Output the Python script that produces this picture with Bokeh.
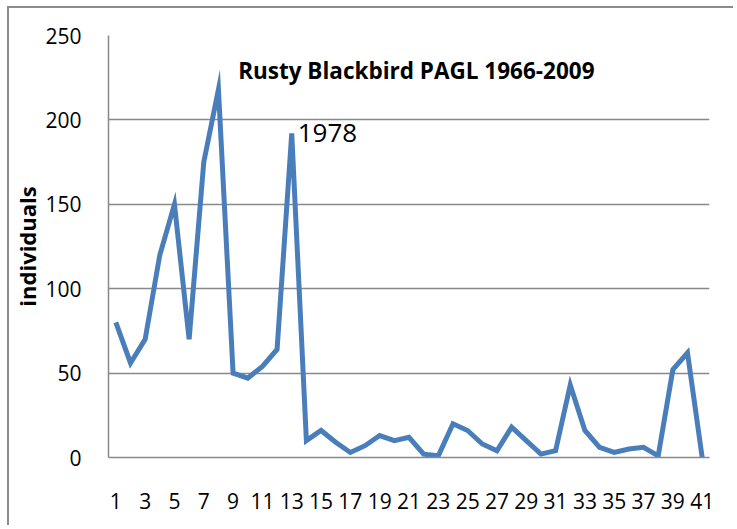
from bokeh.plotting import figure
from bokeh.layouts import column
from bokeh.models import Range1d, FixedTicker, Label, InlineStyleSheet
from bokeh.embed import file_html
from bokeh.resources import INLINE

x_index = list(range(1, 42))
individuals = [80, 56, 70, 120, 150, 70, 175, 218, 50, 47, 54, 64, 192,
               10, 16, 9, 3, 7, 13, 10, 12, 2, 1, 20, 16, 8, 4, 18, 10, 2,
               4, 43, 16, 6, 3, 5, 6, 1, 52, 62, 0]
x_tick_labels = [str(i) for i in range(1, 42, 2)]
y_ticks = [0, 50, 100, 150, 200, 250]
title_text = "Rusty Blackbird PAGL 1966-2009"
annotation_text = "1978"
annotation_index = 13

FONT = "Open Sans"
GRID = "#898989"

fig_css = InlineStyleSheet(css=":host { border-top: 2px solid #8c8c8c; border-left: 2px solid #8c8c8c; }")
wrap_css = InlineStyleSheet(css=":host { padding-top: 6px; padding-left: 7px; }")

p = figure(width=726, height=519, output_backend="svg", toolbar_location=None,
           x_range=Range1d(0.5, 41.5), y_range=Range1d(0, 250),
           min_border_left=98, min_border_top=27, min_border_right=26,
           min_border_bottom=70, stylesheets=[fig_css])
p.outline_line_color = None
p.background_fill_color = "white"
p.border_fill_color = "white"

p.line(x_index, individuals, line_color="#4a7ebb", line_width=5, line_join="miter")

# axes
p.xaxis.ticker = FixedTicker(ticks=list(range(1, 42, 2)))
p.xaxis.major_label_overrides = {int(s): s for s in x_tick_labels}
p.xaxis.major_label_text_font = FONT
p.xaxis.major_label_text_font_size = "21px"
p.xaxis.major_label_text_color = "black"
p.xaxis.major_label_standoff = 29
p.xaxis.major_tick_line_color = None
p.xaxis.minor_tick_line_color = None
p.xaxis.axis_line_color = GRID
p.xaxis.axis_line_width = 1.5

p.yaxis.ticker = FixedTicker(ticks=y_ticks)
p.yaxis.major_label_text_font = FONT
p.yaxis.major_label_text_font_size = "21px"
p.yaxis.major_label_text_color = "black"
p.yaxis.major_label_standoff = 21
p.yaxis.major_tick_line_color = None
p.yaxis.minor_tick_line_color = None
p.yaxis.axis_line_color = GRID
p.yaxis.axis_line_width = 1.5
p.yaxis.axis_label = "individuals"
p.yaxis.axis_label_text_font = FONT
p.yaxis.axis_label_text_font_style = "bold"
p.yaxis.axis_label_text_font_size = "22px"
p.yaxis.axis_label_text_color = "black"
p.yaxis.axis_label_standoff = 0

p.xgrid.grid_line_color = None
p.ygrid.ticker = FixedTicker(ticks=y_ticks)
p.ygrid.grid_line_color = GRID
p.ygrid.grid_line_width = 1.5

title = Label(x=21.5, y=229, text=title_text, text_font=FONT,
              text_font_style="bold", text_font_size="22.5px", text_color="black",
              text_align="center", text_baseline="middle")
p.add_layout(title)

ann = Label(x=annotation_index, y=individuals[annotation_index - 1], x_offset=6,
            text=annotation_text, text_font=FONT, text_font_size="26px",
            text_color="black", text_align="left", text_baseline="middle")
p.add_layout(ann)

layout = column(p, stylesheets=[wrap_css])

open("out.html", "w").write(file_html(layout, INLINE))
